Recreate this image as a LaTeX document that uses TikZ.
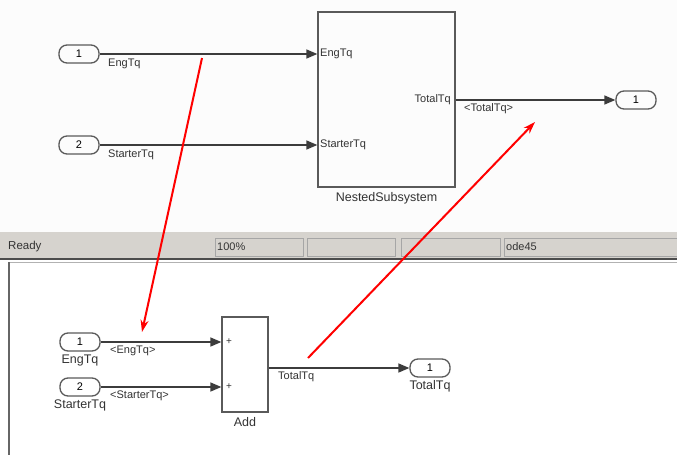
\documentclass[tikz,border=0pt]{standalone}
\usepackage{fontspec}
\setmainfont{Liberation Sans}
\usetikzlibrary{arrows.meta, positioning, calc}
\definecolor{barGray}{HTML}{D6D3CE}
\definecolor{lineGray}{HTML}{3C3C3C}
\definecolor{boxGray}{HTML}{5A5A5A}

\tikzset{
    port/.style={draw=boxGray, line width=1.3pt, rounded corners=8pt, minimum width=40pt, minimum height=18pt, inner sep=0pt, font=\fontsize{11}{11}\selectfont},
    blk/.style={draw=boxGray, line width=1.3pt, inner sep=0pt},
    sig/.style={draw=lineGray, line width=1.5pt, -{Triangle[length=11pt, width=9pt]}},
    lbl/.style={inner sep=0pt, font=\fontsize{11}{11}\selectfont, text=black!80},
    blkname/.style={inner sep=0pt, font=\fontsize{12.5}{12.5}\selectfont, text=black!80},
    field/.style={draw=gray!70, fill=barGray, line width=0.8pt},
    redptr/.style={red, line width=2pt, -{Stealth[length=12pt, width=8pt]}}
}

\begin{document}
\begin{tikzpicture}[x=1pt, y=-1pt]
    \useasboundingbox (0,0) rectangle (677,455);
    \fill[black!1] (0,0) rectangle (677,232);
    \fill[white] (0,258) rectangle (677,455);

    % top model
    \node[port] (in1) at (79,54) {1};
    \node[port] (in2) at (79,145) {2};
    \node[lbl, anchor=north west] at (108,59) {EngTq};
    \node[lbl, anchor=north west] at (108,150) {StarterTq};

    \node[blk, minimum width=137pt, minimum height=175pt] (sub) at (386.5,99.5) {};
    \node[blkname, below=5pt of sub] {NestedSubsystem};
    \node[lbl, anchor=west] at (320,54) {EngTq};
    \node[lbl, anchor=west] at (320,145) {StarterTq};
    \node[lbl, anchor=east] at (451,100) {TotalTq};

    \node[port] (out1) at (636,100) {1};
    \node[lbl, anchor=north west] at (464,103) {<TotalTq>};

    \draw[sig] (in1) -- (sub.west |- in1);
    \draw[sig] (in2) -- (sub.west |- in2);
    \draw[sig] (sub.east |- out1) -- (out1);

    % status bar
    \fill[barGray] (0,232) rectangle (677,258);
    \draw[field] (215,238) rectangle (303,256);
    \draw[field] (307,238) rectangle (395,256);
    \draw[field] (401,238) rectangle (500,256);
    \draw[field] (504,238) rectangle (680,256);
    \node[blkname, anchor=west, font=\fontsize{11.5}{11.5}\selectfont] at (8,247) {Ready};
    \node[blkname, anchor=west, font=\fontsize{11}{11}\selectfont] at (217,247) {100\%};
    \node[blkname, anchor=west, font=\fontsize{11}{11}\selectfont] at (506,247) {ode45};
    \draw[black!70, line width=1.5pt] (0,259) -- (677,259);
    \draw[gray!60, line width=0.8pt] (9,455) -- (9,262) -- (677,262);
    \draw[black!60, line width=1.5pt] (9,262) -- (9,455);

    % bottom model
    \node[port] (in1b) at (80,342) {1};
    \node[port] (in2b) at (80,387) {2};
    \node[blkname, below=3pt of in1b] {EngTq};
    \node[blkname, below=3pt of in2b] {StarterTq};
    \node[lbl, anchor=west] at (110,351) {<EngTq>};
    \node[lbl, anchor=west] at (110,396) {<StarterTq>};

    \node[blk, minimum width=46pt, minimum height=95pt] (add) at (245,364.5) {};
    \node[blkname, below=5pt of add] {Add};
    \node[lbl, font=\fontsize{10}{10}\selectfont] at (229,342) {+};
    \node[lbl, font=\fontsize{10}{10}\selectfont] at (229,387) {+};

    \node[port] (outb) at (430,368) {1};
    \node[blkname, below=3pt of outb] {TotalTq};
    \node[lbl, anchor=west] at (278,377) {TotalTq};

    \draw[sig] (in1b) -- (add.west |- in1b);
    \draw[sig] (in2b) -- (add.west |- in2b);
    \draw[sig] (add.east |- outb) -- (outb);

    % red pointers
    \coordinate (p1) at (202,58);
    \coordinate (p2) at (142,332);
    \coordinate (q1) at (308,358);
    \coordinate (q2) at (535,122);
    \draw[redptr] (p1) -- (p2);
    \draw[redptr] (q1) -- (q2);
\end{tikzpicture}
\end{document}
